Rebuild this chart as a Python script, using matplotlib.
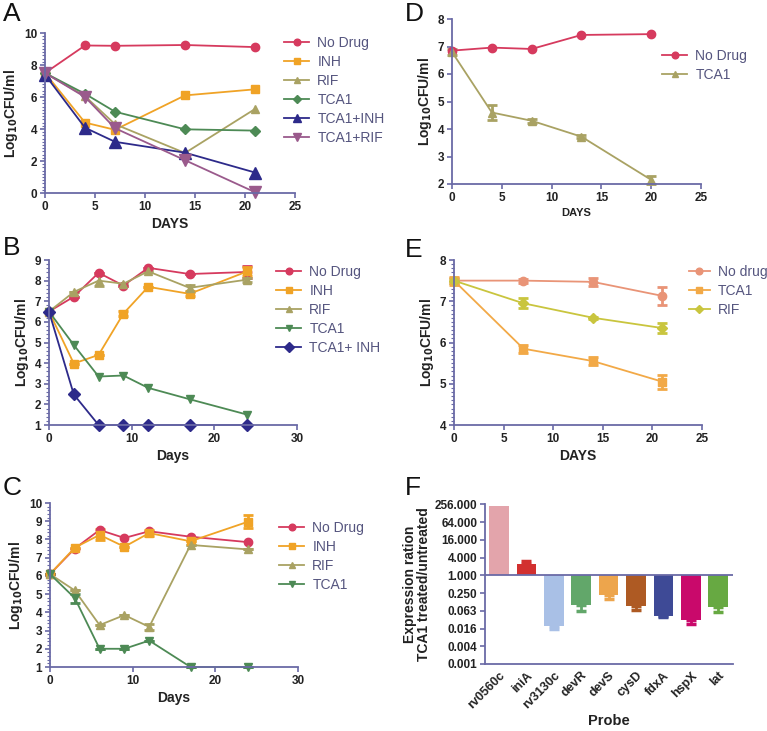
import numpy as np
import matplotlib
matplotlib.use('Agg')
import matplotlib.pyplot as plt
from matplotlib.ticker import AutoMinorLocator
from matplotlib.container import ErrorbarContainer

# ---- data ----
# panel A
a_days = [0, 4, 7, 14, 21]
a_nodrug = [7.5, 9.22, 9.2, 9.25, 9.12]
a_inh = [7.5, 4.4, 3.95, 6.1, 6.48]
a_rif = [7.5, 6.05, 4.3, 2.5, 5.25]
a_tca1 = [7.5, 6.2, 5.08, 3.98, 3.9]
a_tca1_inh = [7.4, 4.08, 3.2, 2.52, 1.28]
a_tca1_rif = [7.5, 6.0, 4.05, 2.05, 0.05]

# panel B
b_days = [0, 3, 6, 9, 12, 17, 24]
b_nodrug = [6.5, 7.22, 8.38, 7.76, 8.62, 8.32, 8.42]
b_nodrug_err = [0, 0, 0, 0, 0, 0, 0.3]
b_inh = [6.5, 3.98, 4.4, 6.4, 7.7, 7.36, 8.45]
b_inh_err = [0, 0, 0, 0.12, 0, 0.1, 0.22]
b_rif = [6.5, 7.45, 8.0, 7.85, 8.45, 7.65, 8.05]
b_rif_err = [0, 0, 0.25, 0, 0, 0.15, 0.1]
b_tca1 = [6.5, 4.88, 3.35, 3.4, 2.8, 2.25, 1.5]
b_tca1_inh = [6.5, 2.48, 1.0, 1.0, 1.0, 1.0, 1.0]

# panel C
c_days = [0, 3, 6, 9, 12, 17, 24]
c_nodrug = [6.1, 7.5, 8.52, 8.08, 8.45, 8.15, 7.85]
c_inh = [6.1, 7.55, 8.25, 7.6, 8.35, 7.9, 8.98]
c_inh_err = [0, 0, 0.3, 0, 0.15, 0, 0.35]
c_rif = [6.1, 5.2, 3.3, 3.85, 3.2, 7.7, 7.45]
c_rif_err = [0, 0, 0, 0, 0.15, 0, 0]
c_tca1 = [6.1, 4.78, 2.0, 2.0, 2.45, 1.0, 1.0]
c_tca1_err = [0, 0.25, 0, 0, 0, 0, 0]

# panel D
d_days = [0, 4, 8, 13, 20]
d_nodrug = [6.85, 6.96, 6.91, 7.42, 7.45]
d_tca1 = [6.8, 4.6, 4.3, 3.72, 2.15]
d_tca1_err = [0.12, 0.28, 0.08, 0.05, 0.15]

# panel E
e_days = [0, 7, 14, 21]
e_nodrug = [7.5, 7.5, 7.47, 7.13]
e_nodrug_err = [0.06, 0.05, 0.1, 0.22]
e_tca1 = [7.5, 5.85, 5.55, 5.05]
e_tca1_err = [0.1, 0.1, 0.1, 0.17]
e_rif = [7.5, 6.95, 6.6, 6.35]
e_rif_err = [0.05, 0.12, 0.03, 0.13]

# panel F
probes = ['rv0560c', 'iniA', 'rv3130c', 'devR', 'devS', 'cysD', 'fdxA', 'hspX', 'lat']
ratio = [230.0, 2.35, 0.019, 0.097, 0.21, 0.092, 0.042, 0.030, 0.085]
ratio_err_end = [230.0, 3.0, 0.015, 0.0625, 0.16, 0.065, 0.039, 0.022, 0.056]
f_ticks = [256, 64, 16, 4, 1, 0.25, 0.0625, 0.015625, 0.00390625, 0.0009765625]
f_ticklabels = ['256.000', '64.000', '16.000', '4.000', '1.000', '0.250',
                '0.063', '0.016', '0.004', '0.001']
f_colors = ['#e3a4ab', '#d2302f', '#a9c0e6', '#62a76a', '#eda54c',
            '#ae5a23', '#3e4a96', '#c9096b', '#67a942']

# ---- style ----
AX = '#6a6aa6'
TXT = '#222222'
LEG = '#55557f'
plt.rcParams['font.family'] = ['Liberation Sans', 'DejaVu Sans']

fig = plt.figure(figsize=(7.67, 7.31), dpi=100)


def setup(ax, xlim, xticks, ylim, yticks, xlabel, minors=None, xlsize=10):
    for s in ['top', 'right']:
        ax.spines[s].set_visible(False)
    for s in ['left', 'bottom']:
        ax.spines[s].set_color(AX)
        ax.spines[s].set_linewidth(1.3)
    ax.set_xlim(*xlim)
    ax.set_ylim(*ylim)
    ax.set_xticks(xticks)
    ax.set_yticks(yticks)
    if minors:
        ax.yaxis.set_minor_locator(AutoMinorLocator(minors))
    ax.tick_params(colors=AX, labelcolor=TXT, width=1.2, length=3.5, pad=2)
    ax.tick_params(which='minor', colors=AX, width=0.8, length=2)
    for lbl in ax.get_xticklabels() + ax.get_yticklabels():
        lbl.set_fontweight('bold')
        lbl.set_fontsize(8.5)
    ax.set_xlabel(xlabel, fontsize=xlsize, fontweight='bold', color=TXT, labelpad=3)
    ax.set_ylabel(r'Log$_{\mathbf{10}}$CFU/ml', fontsize=10, fontweight='bold',
                  color=TXT, labelpad=3)


def line(ax, x, y, color, marker, label, err=None, ms=6):
    ax.errorbar(x, y, yerr=err, color=color, marker=marker, ms=ms, lw=1.3,
                capsize=3.5, capthick=2, elinewidth=2, label=label, clip_on=False)


def legend(ax, xy, hl=1.8):
    handles, labels = ax.get_legend_handles_labels()
    handles = [h[0] if isinstance(h, ErrorbarContainer) else h for h in handles]
    fig.legend(handles, labels, loc='upper left',
               bbox_to_anchor=xy, frameon=False, fontsize=10,
               labelcolor=LEG, handlelength=hl, handletextpad=0.6,
               labelspacing=0.36, borderaxespad=0, borderpad=0, markerscale=0.8)


W, H = 767.0, 731.0


def rect(x0, x1, y_top, y_bot):
    return [x0 / W, 1 - y_bot / H, (x1 - x0) / W, (y_bot - y_top) / H]


# A
ax = fig.add_axes(rect(45, 295, 33, 193))
line(ax, a_days, a_nodrug, '#d63a5e', 'o', 'No Drug')
line(ax, a_days, a_inh, '#f0a326', 's', 'INH')
line(ax, a_days, a_rif, '#a9a263', '^', 'RIF')
line(ax, a_days, a_tca1, '#4d8a55', 'D', 'TCA1', ms=5)
line(ax, a_days, a_tca1_inh, '#2d2a8a', '^', 'TCA1+INH', ms=8)
line(ax, a_days, a_tca1_rif, '#9a5a8c', 'v', 'TCA1+RIF', ms=8)
setup(ax, (0, 25), [0, 5, 10, 15, 20, 25], (0, 10), [0, 2, 4, 6, 8, 10], 'DAYS', 10)
legend(ax, (284 / W, 1 - 36 / H))

# B
ax = fig.add_axes(rect(49, 297, 260, 425))
line(ax, b_days, b_nodrug, '#d63a5e', 'o', 'No Drug', b_nodrug_err)
line(ax, b_days, b_inh, '#f0a326', 's', 'INH', b_inh_err)
line(ax, b_days, b_rif, '#a9a263', '^', 'RIF', b_rif_err)
line(ax, b_days, b_tca1, '#4d8a55', 'v', 'TCA1')
line(ax, b_days, b_tca1_inh, '#2d2a8a', 'D', 'TCA1+ INH')
setup(ax, (0, 30), [0, 10, 20, 30], (1, 9), list(range(1, 10)), 'Days', 5)
legend(ax, (276 / W, 1 - 265 / H))

# C
ax = fig.add_axes(rect(50, 298, 503, 667))
line(ax, c_days, c_nodrug, '#d63a5e', 'o', 'No Drug')
line(ax, c_days, c_inh, '#f0a326', 's', 'INH', c_inh_err)
line(ax, c_days, c_rif, '#a9a263', '^', 'RIF', c_rif_err)
line(ax, c_days, c_tca1, '#4d8a55', 'v', 'TCA1', c_tca1_err)
setup(ax, (0, 30), [0, 10, 20, 30], (1, 10), list(range(1, 11)), 'Days', 5)
legend(ax, (279 / W, 1 - 521 / H))

# D
ax = fig.add_axes(rect(452, 701, 19, 184))
line(ax, d_days, d_nodrug, '#d63a5e', 'o', 'No Drug')
line(ax, d_days, d_tca1, '#a9a263', '^', 'TCA1', d_tca1_err)
setup(ax, (0, 25), [0, 5, 10, 15, 20, 25], (2, 8), list(range(2, 9)), 'DAYS', xlsize=8)
legend(ax, (662 / W, 1 - 49 / H))

# E
ax = fig.add_axes(rect(454, 702, 260, 425))
line(ax, e_days, e_nodrug, '#e99477', 'o', 'No drug', e_nodrug_err)
line(ax, e_days, e_tca1, '#f2a947', 's', 'TCA1', e_tca1_err)
line(ax, e_days, e_rif, '#c9c53e', 'D', 'RIF', e_rif_err, ms=5)
setup(ax, (0, 25), [0, 5, 10, 15, 20, 25], (4, 8), [4, 5, 6, 7, 8], 'DAYS', 10)
legend(ax, (689 / W, 1 - 265 / H), hl=1.5)

# F
ax = fig.add_axes(rect(485, 733, 504, 664))
ax.set_yscale('log', base=2)
xpos = np.arange(len(probes))
heights = [r - 1 for r in ratio]
ax.bar(xpos, heights, bottom=1, width=0.72, color=f_colors, zorder=2)
for i in range(len(probes)):
    if ratio_err_end[i] == ratio[i]:
        continue
    lo = max(ratio[i] - ratio_err_end[i], 0)
    hi = max(ratio_err_end[i] - ratio[i], 0)
    ax.errorbar(xpos[i], ratio[i], yerr=[[lo], [hi]], color=f_colors[i],
                capsize=3.5, capthick=2.5, elinewidth=2, zorder=1)
ax.axhline(1, color=AX, lw=1.3, zorder=3)
ax.set_ylim(0.0009765625, 262)
ax.set_xlim(-0.51, 8.54)
ax.set_yticks(f_ticks)
ax.set_yticklabels(f_ticklabels)
ax.yaxis.set_minor_locator(plt.NullLocator())
ax.set_xticks(xpos)
ax.set_xticklabels(probes, rotation=45, ha='right', rotation_mode='anchor')
for s in ['top', 'right']:
    ax.spines[s].set_visible(False)
for s in ['left', 'bottom']:
    ax.spines[s].set_color(AX)
    ax.spines[s].set_linewidth(1.3)
ax.tick_params(colors=AX, labelcolor=TXT, width=1.2, length=3.5, pad=2)
ax.tick_params(axis='x', length=0, pad=4)
for lbl in ax.get_yticklabels():
    lbl.set_fontweight('bold')
    lbl.set_fontsize(8.5)
for lbl in ax.get_xticklabels():
    lbl.set_fontweight('bold')
    lbl.set_fontsize(9)
ax.set_xlabel('Probe', fontsize=10.5, fontweight='bold', color=TXT, labelpad=2)
ax.set_ylabel('Expression ration\nTCA1 treated/untreated', fontsize=10,
              fontweight='bold', color=TXT, linespacing=1.0, labelpad=3)

# panel letters
for letter, x, y in [('A', 3, 2), ('B', 3, 236), ('C', 3, 476),
                     ('D', 405, 2), ('E', 405, 238), ('F', 405, 476)]:
    fig.text(x / W, 1 - y / H, letter, fontsize=19, va='top', ha='left', color='#111111')

fig.savefig('out.png', dpi=100)
